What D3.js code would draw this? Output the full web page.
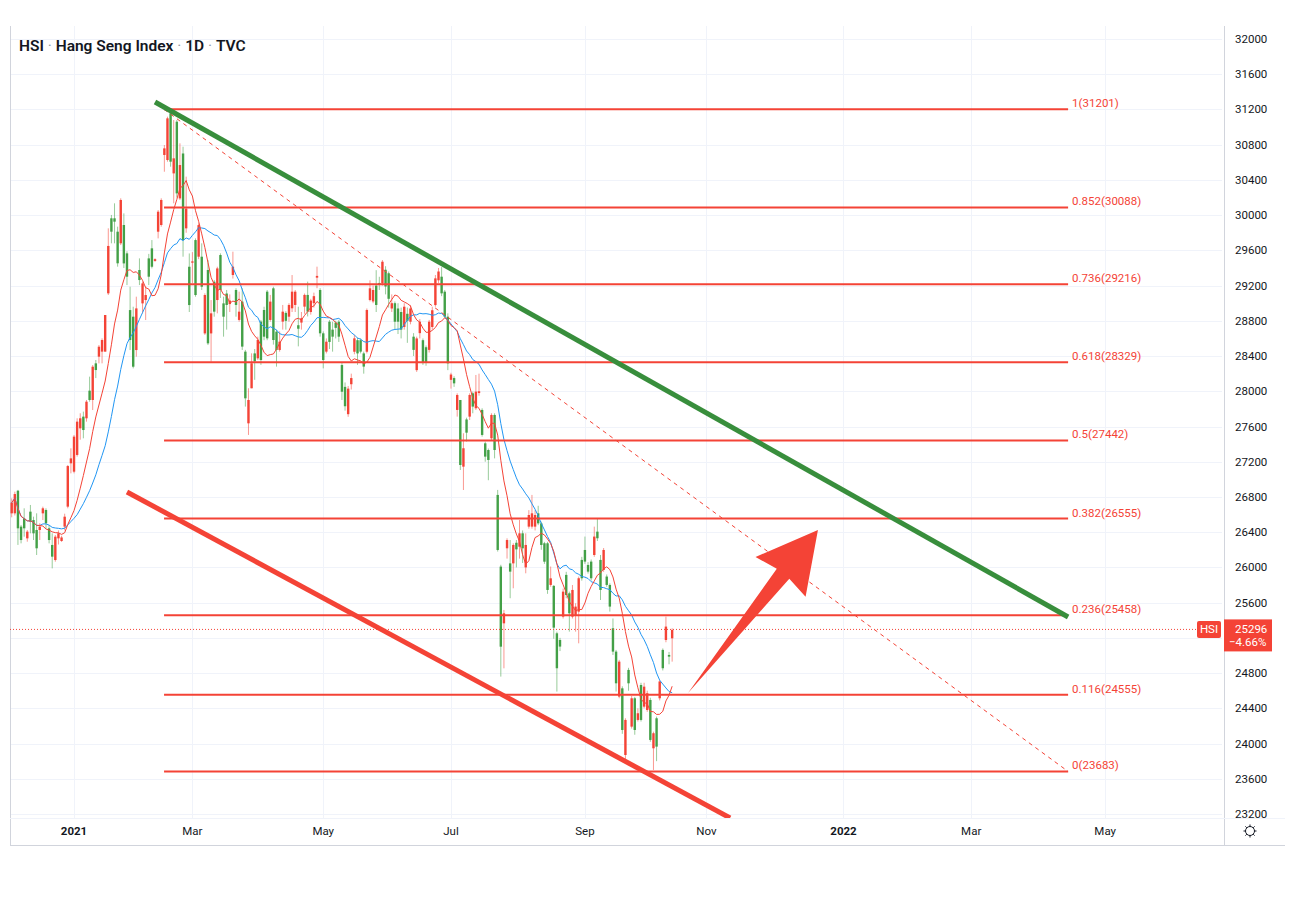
<!DOCTYPE html>
<html><head><meta charset="utf-8">
<script src="https://cdn.jsdelivr.net/npm/d3@7"></script>
<style>
html,body{margin:0;padding:0;background:#fff;}
svg{display:block;font-family:Roboto,"Noto Sans",sans-serif;}
</style></head><body>
<svg id="c" width="1293" height="902"></svg>
<script>
// ---- DATA ----
const opens=[26614,26614,26871,26463,26557,26330,26633,26538,26425,26425,26614,26652,26444,26255,26084,26330,26300,26463,26690,27182,
27087,27277,27579,27712,27693,28007,27901,28317,28393,28450,28450,29112,29964,29964,29812,29680,29888,29566,28922,28847,
28468,29377,28998,29036,29509,29623,29480,29812,29888,30683,30626,31156,30474,31061,30190,30700,29850,29414,29460,29717,
29528,29528,28657,29377,28657,29244,29036,29547,28998,29110,28990,29320,29150,28810,29018,28450,27636,28034,28430,28374,
28791,28923,29131,28810,29169,28677,28469,28791,28890,28847,28942,28980,28750,28780,28961,29094,28900,29000,29290,29150,
28658,28450,28790,28700,28780,28790,28298,28050,27740,28080,28449,28580,28580,28430,28449,29036,29020,29200,29230,29225,
29380,29340,28940,29000,28940,28900,28730,28880,28790,28620,28240,28660,28580,28500,28470,28730,28979,29260,29301,29131,
28847,28130,28150,27788,27901,27144,27680,27712,27977,27807,27980,27788,27409,27333,27466,27731,26823,26009,25365,26217,
26046,26046,26280,26235,26387,26000,26463,26463,26463,26614,26500,26274,26274,25801,25790,25252,25176,25441,25915,25706,
25441,25460,25498,26085,26198,26028,26066,26141,26406,26085,25971,25896,25801,25309,25044,24533,24627,23870,24836,24192,
24514,24268,24665,24419,24381,24495,23946,24287,24514,25063,25176,25006,25195];
const highs=[26784,26860,26880,26482,26671,26425,26709,26576,26614,26501,26690,26671,26482,26387,26368,26420,26360,26610,27163,27352,
27504,27693,27750,27769,27901,28166,28298,28355,28525,28601,28866,29850,30002,30134,29869,30191,30020,29590,29187,28960,
29074,29509,29244,29187,29560,29717,29510,30058,30191,30796,31118,31201,31080,31080,30815,30777,30437,29565,29580,29736,
29906,29680,29112,29490,29036,29263,29414,29566,29074,29150,29100,29585,29170,29131,29169,28470,28034,28431,28480,28620,
28810,28960,29150,29094,29187,28700,28680,28980,28910,29000,29320,29150,28960,28900,29110,29245,29050,29120,29415,29170,
28680,28600,28810,28790,28800,28810,28320,28100,28060,28200,28640,28610,28600,28450,28940,29260,29200,29375,29300,29490,
29420,29360,29100,29020,29000,28950,29000,28950,28980,28660,28620,28820,28600,28520,28810,28960,29320,29400,29410,29150,
28885,28210,28170,27977,27901,27523,27700,27977,27996,28185,28200,27807,27428,27350,27750,27750,26880,26030,25517,26330,
26311,26274,26311,26538,26420,26387,26650,26823,26650,26700,26520,26290,26290,26010,25800,25270,25200,25760,25950,25725,
25800,25593,25896,26120,26350,26060,26090,26463,26558,26141,26220,25920,25820,25420,25063,24950,24650,24287,24860,24540,
24530,24400,24690,24690,24600,24520,24135,24306,24720,25080,25441,25040,25309];
const lows=[26569,26590,26255,26273,26349,26292,26387,26311,26141,26311,26538,26444,26273,25989,26065,26260,26290,26420,26671,27068,
27068,27258,27450,27466,27655,27882,27787,28150,28317,28317,28450,29093,29680,29680,29415,29660,29400,29206,28468,28260,
28393,29206,28885,28809,29206,29395,29470,29736,29869,30493,30607,30550,30134,30200,30172,29528,29800,28900,29230,29074,
29500,29150,28640,28525,28336,28847,28885,29060,28620,28700,28900,29280,28847,28790,28469,27826,27504,28034,28130,28355,
28300,28580,28580,28790,28530,28280,28450,28700,28700,28790,28900,28900,28510,28700,28880,28850,28870,28950,29170,28620,
28260,28430,28480,28450,28600,28560,27901,27780,27710,28020,28420,28300,28430,28200,28430,29020,29000,28900,29150,29200,
29100,28950,28900,28700,28650,28600,28700,28550,28760,28400,28220,28600,28300,28290,28440,28700,28960,29230,29080,28830,
28240,28030,28050,27712,27106,26879,27430,27674,27750,27788,27950,27485,27200,26990,27440,27238,26180,24760,24854,26100,
25650,25763,26000,26100,26050,25933,26440,26440,26420,26480,26200,26040,25700,25780,25190,24590,25050,25420,25650,25271,
25420,25271,25138,25850,26040,25930,25850,26120,26300,25630,25950,25780,25498,25006,24590,24514,24110,23795,24600,24170,
24100,24250,24250,24400,24360,24020,23700,23800,24490,24830,25150,24900,24930];
const closes=[26735,26833,26444,26311,26444,26406,26519,26387,26217,26463,26671,26501,26311,26122,26349,26387,26340,26576,27151,27238,
27485,27655,27693,27560,27882,27901,28279,28241,28506,28582,28866,29650,29812,29926,29453,30172,29452,29301,28582,28279,
28941,29263,29225,29093,29301,29414,29500,30039,30172,30758,31099,30607,30645,30247,30569,29718,30074,28979,29475,29093,
29887,29187,29093,28544,28885,28904,29395,29150,28847,28980,29030,29415,28980,28904,28507,27920,27901,28318,28340,28582,
28355,28620,28601,29018,28582,28469,28563,28904,28800,28980,29131,29131,28710,28830,29094,28904,29030,29080,29310,28658,
28355,28563,28560,28620,28720,28620,27995,27830,28030,28150,28601,28430,28450,28280,28923,29169,29150,28980,29210,29471,
29190,29050,29000,28790,28790,28700,28960,28800,28940,28470,28600,28790,28320,28330,28790,28920,29282,29360,29112,28847,
28317,28190,28090,27958,27163,27353,27530,27958,27826,27996,28000,27504,27258,27220,27731,27333,26198,25100,25479,26311,
25952,26255,26205,26387,26217,26255,26595,26614,26595,26500,26255,26065,25744,25876,25316,24855,25101,25725,25687,25479,
25744,25555,25877,25877,26066,25952,25877,26350,26331,25744,26198,25801,25555,25044,24684,24930,24154,24268,24684,24514,
24154,24344,24268,24646,24571,24041,24117,23965,24705,24855,25328,24987,25290];

const priceTickValues=[32000,31600,31200,30800,30400,30000,29600,29200,28800,28400,28000,27600,27200,26800,26400,26000,25600,25200,24800,24400,24000,23600,23200];
const timeTickIndex=[20,58,100,141,184,223,267,308,351];
const timeTickLabels=["2021","Mar","May","Jul","Sep","Nov","2022","Mar","May"];
const fibRatios=["1","0.852","0.736","0.618","0.5","0.382","0.236","0.116","0"];
const fibPrices=[31201,30088,29216,28329,27442,26555,25458,24555,23683];
const fibSpanIdx=[48.9,339.1];
const greenTrendIdx=[46.0,339.1], greenTrendPrice=[31285,25437];
const redTrendIdx=[37.0,230.6], redTrendPrice=[26857,23155];
const arrowIdx=[217.1,258.8], arrowPrice=[24574,26425];
const lastPrice=25296, lastChange="\u22124.66%", symbol="HSI";
const maFast=10, maSlow=20;

// ---- LAYOUT ----
const L=10,R=1222,T=26,B=818,AXB=845;
const svg=d3.select("#c");
const x=d3.scaleLinear().domain([-0.55,388.5]).range([L,R]);
const y=d3.scaleLinear().domain([23200,32000]).range([814,39]);
const RED="#f44336", GREEN="#43a047", BLUE="#2196f3", TXT="#131722", GRID="#f0f3fa", BORDER="#d1d4dc";

svg.append("defs").append("clipPath").attr("id","plot").append("rect").attr("x",L).attr("y",T).attr("width",R-L).attr("height",B-T);

// grid
svg.append("g").selectAll("line").data(priceTickValues).join("line")
 .attr("x1",L).attr("x2",R).attr("y1",d=>Math.round(y(d))+0.5).attr("y2",d=>Math.round(y(d))+0.5)
 .attr("stroke",GRID).attr("stroke-width",1);
svg.append("g").selectAll("line").data(timeTickIndex).join("line")
 .attr("y1",T).attr("y2",B).attr("x1",d=>Math.round(x(d))+0.5).attr("x2",d=>Math.round(x(d))+0.5)
 .attr("stroke",GRID).attr("stroke-width",1);

// borders
svg.append("line").attr("x1",L+0.5).attr("x2",L+0.5).attr("y1",T).attr("y2",AXB).attr("stroke",BORDER);
svg.append("line").attr("x1",R+2.5).attr("x2",R+2.5).attr("y1",T).attr("y2",AXB).attr("stroke",BORDER);
svg.append("line").attr("x1",L).attr("x2",1285).attr("y1",B+0.5).attr("y2",B+0.5).attr("stroke",GRID);
svg.append("line").attr("x1",L).attr("x2",1285).attr("y1",AXB+0.5).attr("y2",AXB+0.5).attr("stroke",BORDER);

const plot=svg.append("g").attr("clip-path","url(#plot)");

// candles
const idx=d3.range(closes.length);
const cg=plot.append("g");
cg.selectAll("line").data(idx).join("line")
 .attr("x1",i=>x(i)).attr("x2",i=>x(i)).attr("y1",i=>y(highs[i])).attr("y2",i=>y(lows[i]))
 .attr("stroke",i=>closes[i]>=opens[i]?RED:GREEN).attr("stroke-opacity",0.55).attr("stroke-width",1);
cg.selectAll("rect").data(idx).join("rect")
 .attr("x",i=>x(i)-1.2).attr("width",2.4)
 .attr("y",i=>y(Math.max(opens[i],closes[i])))
 .attr("height",i=>Math.max(1,Math.abs(y(opens[i])-y(closes[i]))))
 .attr("fill",i=>closes[i]>=opens[i]?RED:GREEN);

// moving averages (derived from closes)
function sma(n){return closes.map((c,i)=>{const s=closes.slice(Math.max(0,i-n+1),i+1);return d3.mean(s);});}
const line=d3.line().x((d,i)=>x(i)).y(d=>y(d));
plot.append("path").attr("d",line(sma(maSlow))).attr("fill","none").attr("stroke",BLUE).attr("stroke-width",1);
plot.append("path").attr("d",line(sma(maFast))).attr("fill","none").attr("stroke",RED).attr("stroke-width",1);

// fib levels
plot.append("g").selectAll("line").data(fibPrices).join("line")
 .attr("x1",x(fibSpanIdx[0])).attr("x2",x(fibSpanIdx[1])).attr("y1",d=>y(d)).attr("y2",d=>y(d))
 .attr("stroke",RED).attr("stroke-width",2);
plot.append("line").attr("x1",x(fibSpanIdx[0])).attr("y1",y(fibPrices[0])).attr("x2",x(fibSpanIdx[1])).attr("y2",y(fibPrices[fibPrices.length-1]))
 .attr("stroke",RED).attr("stroke-width",1).attr("stroke-dasharray","4,4");
svg.append("g").selectAll("text").data(fibPrices).join("text")
 .attr("x",x(fibSpanIdx[1])+4).attr("y",d=>y(d)-2).attr("fill",RED).attr("font-size",11.5)
 .text((d,i)=>fibRatios[i]+"("+d+")");

// last price line
plot.append("line").attr("x1",L).attr("x2",R).attr("y1",y(lastPrice)).attr("y2",y(lastPrice))
 .attr("stroke",RED).attr("stroke-width",1).attr("stroke-dasharray","1,2");

// trend lines
plot.append("line").attr("x1",x(greenTrendIdx[0])).attr("y1",y(greenTrendPrice[0])).attr("x2",x(greenTrendIdx[1])).attr("y2",y(greenTrendPrice[1]))
 .attr("stroke","#388e3c").attr("stroke-width",5);
plot.append("line").attr("x1",x(redTrendIdx[0])).attr("y1",y(redTrendPrice[0])).attr("x2",x(redTrendIdx[1])).attr("y2",y(redTrendPrice[1]))
 .attr("stroke",RED).attr("stroke-width",5);

// arrow
(function(){
 const x0=x(arrowIdx[0]),y0=y(arrowPrice[0]),x1=x(arrowIdx[1]),y1=y(arrowPrice[1]);
 const dx=x1-x0,dy=y1-y0,len=Math.hypot(dx,dy),ux=dx/len,uy=dy/len,nx=-uy,ny=ux;
 const head=56,shaft=8,barb=32,b=len-head;
 const P=(s,t)=>[x0+ux*s+nx*t,y0+uy*s+ny*t];
 const pts=[P(0,0),P(b,shaft),P(b-4,barb),P(len,0),P(b-4,-barb),P(b,-shaft)];
 plot.append("path").attr("d","M"+pts.map(p=>p.join(",")).join("L")+"Z").attr("fill",RED);
})();

// price axis labels (the one under the last-price tag is hidden, as in the original)
const yl=y(lastPrice);
svg.append("g").selectAll("text").data(priceTickValues.filter(d=>Math.abs(y(d)-(yl+6))>22)).join("text")
 .attr("x",1235).attr("y",d=>y(d)+4).attr("fill",TXT).attr("font-size",11.5).text(d=>d);

// time axis labels
svg.append("g").selectAll("text").data(timeTickIndex).join("text")
 .attr("x",d=>x(d)).attr("y",835).attr("text-anchor","middle").attr("fill",TXT).attr("font-size",11.5)
 .attr("font-weight",(d,i)=>/^\d+$/.test(timeTickLabels[i])?700:400)
 .text((d,i)=>timeTickLabels[i]);

// last price tags
svg.append("rect").attr("x",1197).attr("y",yl-8.5).attr("width",24).attr("height",17).attr("rx",2).attr("fill",RED);
svg.append("text").attr("x",1209).attr("y",yl+4).attr("text-anchor","middle").attr("fill","#fff").attr("font-size",11.5).text(symbol);
svg.append("rect").attr("x",1224).attr("y",yl-10).attr("width",48).attr("height",32).attr("fill",RED);
svg.append("text").attr("x",1235).attr("y",yl+4).attr("fill","#fff").attr("font-size",11.5).text(lastPrice);
svg.append("text").attr("x",1229).attr("y",yl+17).attr("fill","#fff").attr("font-size",11.5).text(lastChange);

// gear icon
const gear=svg.append("g").attr("transform","translate(1250,831)");
gear.append("circle").attr("r",4.5).attr("fill","none").attr("stroke",TXT).attr("stroke-width",1);
gear.selectAll("line").data(d3.range(8)).join("line")
 .attr("x1",d=>4.5*Math.cos(d*Math.PI/4)).attr("y1",d=>4.5*Math.sin(d*Math.PI/4))
 .attr("x2",d=>6.5*Math.cos(d*Math.PI/4)).attr("y2",d=>6.5*Math.sin(d*Math.PI/4))
 .attr("stroke",TXT).attr("stroke-width",1);

// title
const title=svg.append("text").attr("x",19).attr("y",51).attr("font-size",15.5).attr("font-weight",600).attr("fill",TXT);
const parts=["HSI"," \u00b7 ","Hang Seng Index"," \u00b7 ","1D"," \u00b7 ","TVC"];
parts.forEach((p,i)=>title.append("tspan").text(p).attr("fill",i%2?"#9598a1":TXT).attr("font-weight",i%2?400:600));
</script></body></html>
